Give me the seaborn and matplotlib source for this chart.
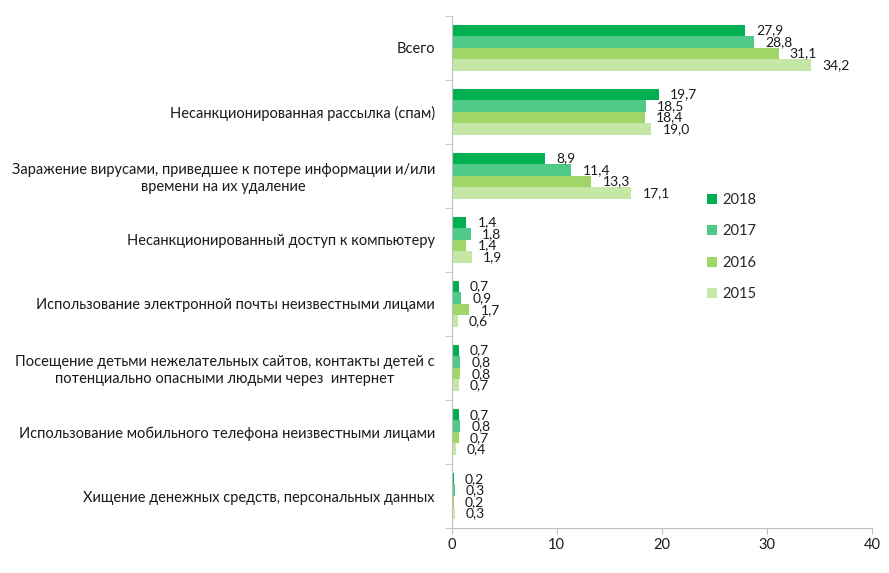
import pandas as pd
import seaborn as sns
import matplotlib.pyplot as plt
import numpy as np

categories = [
    "Всего",
    "Несанкционированная рассылка (спам)",
    "Заражение вирусами, приведшее к потере информации и/или\nвремени на их удаление",
    "Несанкционированный доступ к компьютеру",
    "Использование электронной почты неизвестными лицами",
    "Посещение детьми нежелательных сайтов, контакты детей с\nпотенциально опасными людьми через  интернет",
    "Использование мобильного телефона неизвестными лицами",
    "Хищение денежных средств, персональных данных",
]
years = ["2018", "2017", "2016", "2015"]
v2018 = [27.9, 19.7, 8.9, 1.4, 0.7, 0.7, 0.7, 0.2]
v2017 = [28.8, 18.5, 11.4, 1.8, 0.9, 0.8, 0.8, 0.3]
v2016 = [31.1, 18.4, 13.3, 1.4, 1.7, 0.8, 0.7, 0.2]
v2015 = [34.2, 19.0, 17.1, 1.9, 0.6, 0.7, 0.4, 0.3]
colors = ["#00B050", "#4FC987", "#A0D568", "#C6E7A6"]

rows = []
for year, vals in zip(years, [v2018, v2017, v2016, v2015]):
    for cat, v in zip(categories, vals):
        rows.append({"cat": cat, "year": year, "value": v})
df = pd.DataFrame(rows)

sns.set_style("white")
plt.rcParams["font.family"] = ["Lato", "DejaVu Sans"]

fig = plt.figure(figsize=(8.89, 5.73), dpi=100)
ax = fig.add_axes([0.508, 0.0785, 0.473, 0.894])
sns.barplot(data=df, x="value", y="cat", hue="year", order=categories,
            hue_order=years, palette=colors, orient="h", width=0.72,
            saturation=1, linewidth=0, ax=ax)

# value labels with decimal comma
for c in ax.containers:
    ax.bar_label(c, labels=[f"{v:.1f}".replace(".", ",") for v in c.datavalues],
                 padding=8, fontsize=10, color="#1a1a1a")

ax.set_xlim(0, 40)
ax.set_ylim(len(categories) - 0.5, -0.5)
ax.set_xticks([0, 10, 20, 30, 40])
ax.set_xlabel("")
ax.set_ylabel("")
ax.tick_params(axis="y", length=0, labelsize=10.5, pad=12, labelcolor="#1a1a1a")
ax.tick_params(axis="x", length=4, color="#bfbfbf", labelsize=10.5, labelcolor="#1a1a1a", bottom=True)
ax.set_yticks(np.arange(-0.5, len(categories)), minor=True)
ax.tick_params(axis="y", which="minor", length=5, color="#bfbfbf", left=True)
for lab in ax.get_yticklabels():
    lab.set_horizontalalignment("right")
    lab.set_multialignment("center")

for s in ["top", "right"]:
    ax.spines[s].set_visible(False)
for s in ["left", "bottom"]:
    ax.spines[s].set_color("#bfbfbf")

ax.legend(loc="upper left", bbox_to_anchor=(0.575, 0.68), frameon=False,
          fontsize=10.5, handlelength=0.7, handleheight=0.7,
          labelspacing=1.2, handletextpad=0.4)

fig.savefig("out.png", dpi=100)
